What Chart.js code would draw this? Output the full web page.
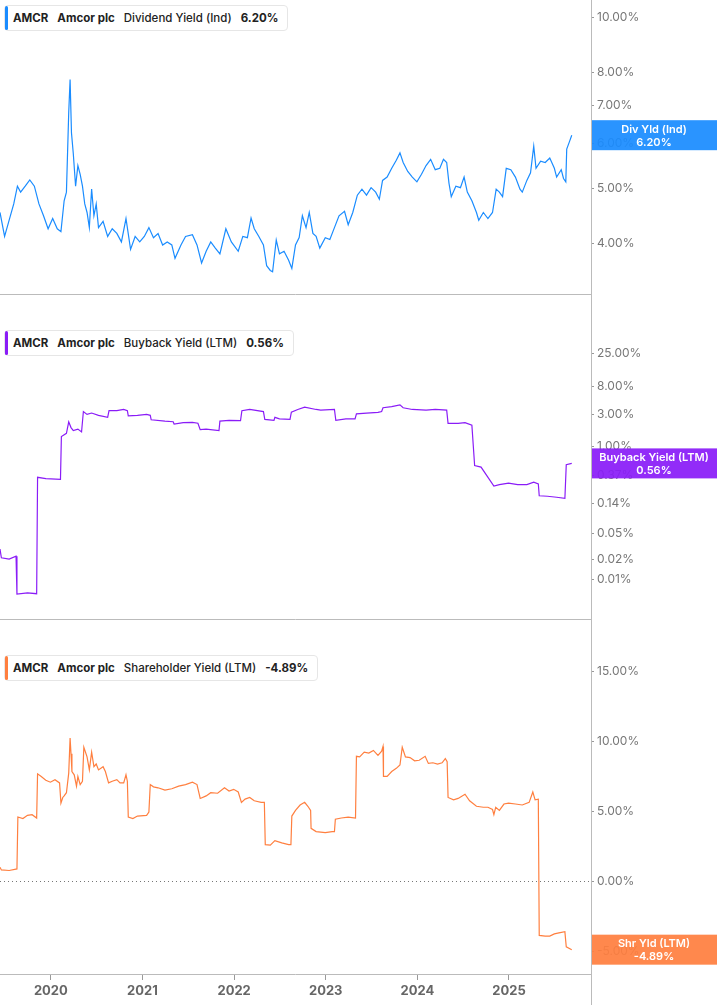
<!DOCTYPE html>
<html>
<head>
<meta charset="utf-8">
<script src="https://cdn.jsdelivr.net/npm/chart.js@4.4.1/dist/chart.umd.min.js"></script>
<style>
  body { margin: 0; background: #fff; font-family: Inter, "Noto Sans", sans-serif; }
  .pane { position: absolute; left: 0; width: 717px; }
  .pane canvas { position: absolute; left: 0; top: 0; }
  .legend {
    position: absolute; left: 4px; top: 5px; height: 24px; padding: 0 9px 0 8px;
    background: #fff; border: 1px solid #e6e6e6; border-radius: 4px;
    font-size: 11.5px; color: #222; display: flex; align-items: center; gap: 9px; z-index: 2;
  }
  .legend::before { content: ""; position: absolute; left: 0; top: 0; bottom: 0; width: 3px; border-radius: 2px; background: var(--c); }
  .legend b { font-weight: 700; }
  .legend span { font-weight: 500; }
</style>
</head>
<body>
<div class="pane" style="top:0;height:325px"><canvas id="c1" width="717" height="325"></canvas><div class="legend" style="--c:#1a8cff"><b>AMCR</b><b>Amcor plc</b><span>Dividend Yield (Ind)</span><b>6.20%</b></div></div>
<div class="pane" style="top:325px;height:325px"><canvas id="c2" width="717" height="325"></canvas><div class="legend" style="--c:#8a1cf7"><b>AMCR</b><b>Amcor plc</b><span>Buyback Yield (LTM)</span><b>0.56%</b></div></div>
<div class="pane" style="top:650px;height:355px"><canvas id="c3" width="717" height="355"></canvas><div class="legend" style="--c:#ff7f3f"><b>AMCR</b><b>Amcor plc</b><span>Shareholder Yield (LTM)</span><b>-4.89%</b></div></div>
<script>
// Time in decimal years, values in percent
const DIV_T = [2019.445,2019.495,2019.545,2019.595,2019.635,2019.670,2019.720,2019.770,2019.820,2019.870,2019.920,2019.970,2020.020,2020.070,2020.110,2020.145,2020.170,2020.195,2020.210,2020.225,2020.245,2020.270,2020.295,2020.320,2020.345,2020.370,2020.395,2020.420,2020.445,2020.470,2020.495,2020.520,2020.570,2020.620,2020.670,2020.720,2020.770,2020.820,2020.870,2020.920,2020.970,2021.020,2021.070,2021.120,2021.170,2021.220,2021.270,2021.320,2021.355,2021.420,2021.470,2021.545,2021.595,2021.645,2021.695,2021.745,2021.795,2021.845,2021.910,2021.970,2022.045,2022.095,2022.145,2022.185,2022.220,2022.270,2022.320,2022.355,2022.395,2022.420,2022.460,2022.495,2022.545,2022.595,2022.630,2022.670,2022.710,2022.745,2022.785,2022.820,2022.860,2022.895,2022.935,2022.995,2023.045,2023.095,2023.145,2023.205,2023.245,2023.295,2023.345,2023.395,2023.445,2023.495,2023.545,2023.585,2023.620,2023.670,2023.720,2023.770,2023.810,2023.845,2023.895,2023.945,2023.995,2024.045,2024.095,2024.145,2024.195,2024.245,2024.285,2024.320,2024.345,2024.370,2024.420,2024.470,2024.510,2024.545,2024.595,2024.645,2024.670,2024.720,2024.770,2024.820,2024.860,2024.895,2024.930,2024.970,2025.020,2025.070,2025.120,2025.145,2025.195,2025.235,2025.270,2025.295,2025.345,2025.395,2025.445,2025.495,2025.520,2025.570,2025.595,2025.620,2025.630,2025.660,2025.685];
const DIV_V = [4.53,4.11,4.39,4.69,5.04,4.92,5.04,5.17,5.04,4.69,4.47,4.24,4.42,4.24,4.19,4.75,4.92,6.8,7.77,6.26,5.75,5.04,5.48,5.29,5.04,4.69,4.53,4.26,4.98,4.47,4.69,4.26,4.37,4.11,4.24,4.16,4.02,4.42,3.90,4.11,4.02,4.11,4.26,4.09,4.16,3.97,4.02,3.97,3.76,3.97,4.11,4.14,3.97,3.69,3.87,4.02,3.92,3.83,4.24,4.02,3.87,4.11,4.09,4.43,4.24,4.11,3.97,3.65,3.58,3.56,4.05,3.83,3.87,3.73,3.61,3.97,4.09,4.47,4.26,4.53,4.16,4.11,3.92,4.09,4.06,4.26,4.47,4.55,4.31,4.53,4.86,4.98,4.86,5.01,4.92,4.78,5.16,5.23,5.42,5.6,5.77,5.55,5.35,5.23,5.13,5.29,5.48,5.62,5.39,5.42,5.62,5.55,5.10,4.83,5.04,5.01,5.23,4.92,4.75,4.53,4.39,4.53,4.42,4.53,4.98,4.92,4.83,5.42,5.39,5.23,4.98,4.92,5.16,5.32,5.93,5.42,5.58,5.55,5.65,5.42,5.23,5.39,5.2,5.13,5.86,6.04,6.2];

const BUY_T = [2019.445,2019.460,2019.545,2019.620,2019.630,2019.745,2019.845,2019.855,2019.945,2020.105,2020.115,2020.170,2020.195,2020.220,2020.245,2020.295,2020.335,2020.355,2020.395,2020.445,2020.520,2020.620,2020.635,2020.720,2020.795,2020.835,2020.845,2020.945,2021.045,2021.085,2021.095,2021.245,2021.335,2021.345,2021.445,2021.545,2021.605,2021.630,2021.695,2021.835,2021.845,2021.945,2022.070,2022.085,2022.170,2022.320,2022.335,2022.435,2022.445,2022.495,2022.610,2022.625,2022.695,2022.770,2022.895,2022.945,2023.095,2023.110,2023.220,2023.320,2023.335,2023.445,2023.570,2023.610,2023.625,2023.720,2023.810,2023.845,2023.945,2024.095,2024.195,2024.320,2024.335,2024.445,2024.520,2024.595,2024.625,2024.695,2024.835,2024.895,2024.995,2025.095,2025.195,2025.270,2025.320,2025.330,2025.420,2025.520,2025.610,2025.625,2025.685];
const BUY_V = [0.029,0.0215,0.0205,0.0227,0.0061,0.0064,0.0062,0.346,0.33,0.323,1.42,1.58,2.36,1.93,1.74,1.83,1.66,3.36,3.04,3.19,2.95,2.75,3.46,3.46,3.61,3.46,2.89,2.95,3.04,2.95,2.53,2.41,2.36,2.18,2.29,2.31,2.24,1.80,1.83,1.74,2.41,2.48,2.45,3.46,3.61,3.36,2.56,2.48,2.75,2.61,2.56,3.29,3.61,3.91,3.61,3.53,3.61,2.48,2.61,2.61,3.10,3.19,3.26,3.36,3.83,3.99,4.24,3.83,3.61,3.53,3.61,3.53,2.24,2.24,2.29,2.09,0.519,0.493,0.256,0.269,0.283,0.269,0.269,0.292,0.275,0.183,0.18,0.174,0.167,0.535,0.56];

const SHR_T = [2019.445,2019.460,2019.545,2019.630,2019.640,2019.695,2019.745,2019.795,2019.845,2019.855,2019.895,2019.945,2019.995,2020.045,2020.095,2020.110,2020.130,2020.145,2020.170,2020.195,2020.210,2020.220,2020.230,2020.255,2020.280,2020.295,2020.320,2020.345,2020.360,2020.395,2020.420,2020.445,2020.470,2020.495,2020.520,2020.570,2020.595,2020.630,2020.670,2020.720,2020.755,2020.795,2020.820,2020.835,2020.845,2020.895,2020.945,2021.045,2021.070,2021.085,2021.120,2021.170,2021.245,2021.320,2021.395,2021.470,2021.545,2021.595,2021.630,2021.695,2021.745,2021.820,2021.895,2021.945,2021.995,2022.045,2022.080,2022.120,2022.170,2022.220,2022.295,2022.330,2022.340,2022.395,2022.445,2022.520,2022.595,2022.620,2022.630,2022.670,2022.720,2022.770,2022.805,2022.835,2022.840,2022.895,2022.995,2023.070,2023.095,2023.105,2023.170,2023.245,2023.325,2023.335,2023.370,2023.420,2023.470,2023.520,2023.570,2023.610,2023.625,2023.630,2023.670,2023.720,2023.770,2023.810,2023.835,2023.870,2023.920,2023.970,2024.020,2024.085,2024.120,2024.170,2024.220,2024.270,2024.305,2024.325,2024.335,2024.395,2024.445,2024.520,2024.570,2024.645,2024.720,2024.770,2024.820,2024.835,2024.855,2024.895,2024.945,2024.995,2025.070,2025.145,2025.220,2025.260,2025.285,2025.320,2025.330,2025.395,2025.445,2025.495,2025.545,2025.610,2025.625,2025.685];
const SHR_V = [1.0,0.81,0.77,0.88,4.59,4.48,4.71,4.76,4.52,7.68,7.49,7.22,7.08,7.26,7.03,5.59,5.99,6.10,6.33,7.73,10.23,9.12,7.84,7.61,6.8,7.49,6.91,7.15,9.58,8.89,7.96,9.23,8.19,8.38,7.96,8.19,7.84,7.03,7.15,7.26,7.03,7.03,7.61,7.15,4.59,4.48,4.66,4.71,4.94,6.91,6.75,6.68,6.52,6.61,6.8,6.91,7.08,6.91,5.92,6.10,6.33,6.29,6.68,6.45,6.57,6.38,5.64,5.87,5.99,5.75,5.64,5.64,2.62,2.58,2.9,2.74,2.62,2.62,4.66,5.06,5.45,5.64,5.36,5.06,3.78,3.55,3.48,3.55,3.55,4.43,4.52,4.59,4.52,8.93,8.89,9.23,9.16,9.35,9.0,9.3,9.63,7.49,7.49,7.84,8.07,8.31,9.58,8.89,8.84,8.61,8.65,8.93,8.42,8.47,8.38,8.47,8.77,8.54,5.99,5.82,5.92,6.22,5.75,5.36,5.29,5.29,5.13,4.76,5.29,5.06,5.52,5.59,5.52,5.45,5.64,6.38,5.82,5.87,-3.87,-3.92,-3.92,-3.76,-3.69,-3.6,-4.69,-4.89];

const DIV_TICKS = [4, 5, 6, 7, 8, 10]
const BUY_TICKS = [0.01, 0.02, 0.05, 0.14, 0.37, 1, 3, 8, 25]
const SHR_TICKS = [-5, 0, 5, 10, 15]
const YEAR_TICKS = [2020, 2021, 2022, 2023, 2024, 2025]

const X_MIN = 2019.445
const X_MAX = 2025.895
const AXIS_W = 126
const FRAME = "#bbb"
const FONT = "Inter, 'Noto Sans', sans-serif"

const pts = (t, v) => t.map((x, i) => ({ x, y: v[i] }))

// right-edge value badge, frame lines, optional zero line
function decorPlugin(label, value, color, zeroLine) {
  return {
    id: "decor",
    afterDraw(chart) {
      const { ctx, chartArea: a, scales } = chart
      ctx.save()
      ctx.strokeStyle = FRAME
      ctx.lineWidth = 1
      ctx.beginPath()
      ctx.moveTo(a.right + 0.5, 0)
      ctx.lineTo(a.right + 0.5, chart.height)
      ctx.moveTo(0, a.bottom - 0.5)
      ctx.lineTo(a.right, a.bottom - 0.5)
      ctx.stroke()
      if (zeroLine) {
        const y0 = Math.round(scales.y.getPixelForValue(0)) + 0.5
        ctx.strokeStyle = "#777"
        ctx.setLineDash([1, 3])
        ctx.beginPath()
        ctx.moveTo(0, y0)
        ctx.lineTo(a.right, y0)
        ctx.stroke()
        ctx.setLineDash([])
      }
      const yc = scales.y.getPixelForValue(value)
      ctx.globalAlpha = 0.93
      ctx.fillStyle = color
      ctx.fillRect(a.right + 1, yc - 15, chart.width - a.right, 30)
      ctx.globalAlpha = 1
      ctx.fillStyle = "#fff"
      ctx.font = "600 11px " + FONT
      ctx.textAlign = "center"
      ctx.textBaseline = "middle"
      const cx = a.right + (chart.width - a.right) / 2
      ctx.fillText(label, cx, yc - 6)
      ctx.fillText(value.toFixed(2) + "%", cx, yc + 7)
      ctx.restore()
    }
  }
}

function makeChart(id, data, color, yScale, badge, showX, zeroLine) {
  const canvas = document.getElementById(id)
  return new Chart(canvas, {
    type: "line",
    data: { datasets: [{ data, borderColor: color, borderWidth: 1.2, pointRadius: 0, tension: 0 }] },
    plugins: [decorPlugin(badge, data[data.length - 1].y, color, zeroLine)],
    options: {
      responsive: false,
      animation: false,
      devicePixelRatio: 1,
      layout: { padding: 0 },
      plugins: { legend: { display: false }, tooltip: { enabled: false } },
      scales: {
        x: {
          type: "linear", min: X_MIN, max: X_MAX, display: showX,
          afterBuildTicks: (ax) => { ax.ticks = YEAR_TICKS.map((v) => ({ value: v })) },
          afterFit: (ax) => { ax.height = 30 },
          grid: { drawOnChartArea: false, tickLength: 5, tickColor: "#999" },
          border: { display: false },
          ticks: { color: "#666", font: { family: FONT, size: 13, weight: "700" }, padding: 3, maxRotation: 0, callback: (v) => String(v) }
        },
        y: Object.assign({
          position: "right",
          afterFit: (ax) => { ax.width = AXIS_W },
          grid: { drawOnChartArea: false, tickLength: 3, tickColor: "#999" },
          border: { display: false },
          ticks: { color: "#777", font: { family: FONT, size: 12 }, padding: 3, callback: (v) => Number(v).toFixed(2) + "%" }
        }, yScale)
      }
    }
  })
}

makeChart("c1", pts(DIV_T, DIV_V), "#1a8cff",
  { type: "logarithmic", min: 3.24, max: 10.3, afterBuildTicks: (ax) => { ax.ticks = DIV_TICKS.map((v) => ({ value: v })) } },
  "Div Yld (Ind)", false, false)

makeChart("c2", pts(BUY_T, BUY_V), "#8a1cf7",
  { type: "logarithmic", min: 0.0025, max: 47, afterBuildTicks: (ax) => { ax.ticks = BUY_TICKS.map((v) => ({ value: v })) } },
  "Buyback Yield (LTM)", false, false)

makeChart("c3", pts(SHR_T, SHR_V), "#ff7f3f",
  { type: "linear", min: -6.7, max: 15.8, afterBuildTicks: (ax) => { ax.ticks = SHR_TICKS.map((v) => ({ value: v })) } },
  "Shr Yld (LTM)", true, true)
</script>
</body>
</html>
